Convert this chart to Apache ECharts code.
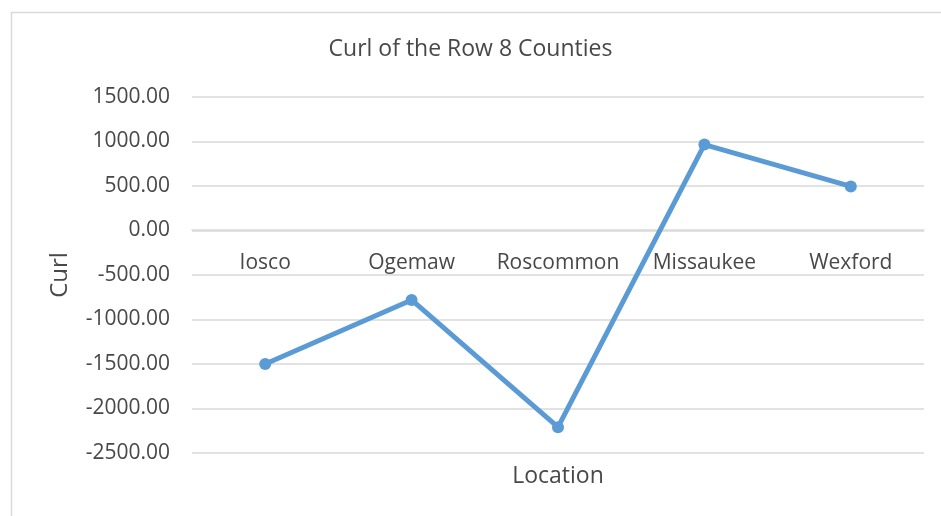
<!DOCTYPE html>
<html>
<head>
<meta charset="utf-8">
<script src="https://cdn.jsdelivr.net/npm/echarts@6/dist/echarts.min.js"></script>
<style>html,body{margin:0;padding:0;background:#fff}#c{width:941px;height:516px}</style>
</head>
<body>
<div id="c"></div>
<script>
const categories = ['Iosco', 'Ogemaw', 'Roscommon', 'Missaukee', 'Wexford'];
const curlValues = [-1500, -780, -2210, 965, 495];
const chartTitle = 'Curl of the Row 8 Counties';
const xName = 'Location';
const yName = 'Curl';

const chart = echarts.init(document.getElementById('c'));
const font = '"Open Sans", "Liberation Sans", sans-serif';
const txt = '#484848';
chart.setOption({
  animation: false,
  backgroundColor: '#fff',
  graphic: [{
    type: 'rect', left: 9, top: 10, silent: true,
    shape: { width: 1000, height: 600 },
    style: { fill: 'none', stroke: '#d9d9d9', lineWidth: 1.5 }
  }],
  title: {
    text: chartTitle, left: 'center', top: 33,
    textStyle: { fontFamily: font, fontSize: 23, fontWeight: 'normal', color: txt }
  },
  grid: { left: 192, right: 17, top: 97, bottom: 63, containLabel: false, outerBoundsMode: 'none' },
  xAxis: {
    type: 'category', data: categories, boundaryGap: true,
    position: 'bottom', offset: -223,
    name: xName, nameLocation: 'middle', nameGap: 235,
    nameTextStyle: { fontFamily: font, fontSize: 23, color: txt },
    axisLine: { show: true, onZero: false, lineStyle: { color: '#d9d9d9', width: 1.5 } },
    axisTick: { show: false },
    axisLabel: { fontFamily: font, fontSize: 21, color: txt, margin: 23, interval: 0, hideOverlap: false }
  },
  yAxis: {
    type: 'value', min: -2500, max: 1500, interval: 500,
    name: yName, nameLocation: 'middle', nameGap: 120, nameRotate: 90,
    nameTextStyle: { fontFamily: font, fontSize: 24, color: txt },
    axisLine: { show: false }, axisTick: { show: false },
    axisLabel: { fontFamily: font, fontSize: 21, color: txt, margin: 22,
      formatter: v => v.toFixed(2) },
    splitLine: { lineStyle: { color: '#d9d9d9', width: 1.5 } }
  },
  series: [{
    type: 'line', data: curlValues,
    symbol: 'circle', symbolSize: 12,
    lineStyle: { color: '#5B9BD5', width: 5 },
    itemStyle: { color: '#5B9BD5' }
  }]
});
</script>
</body>
</html>
